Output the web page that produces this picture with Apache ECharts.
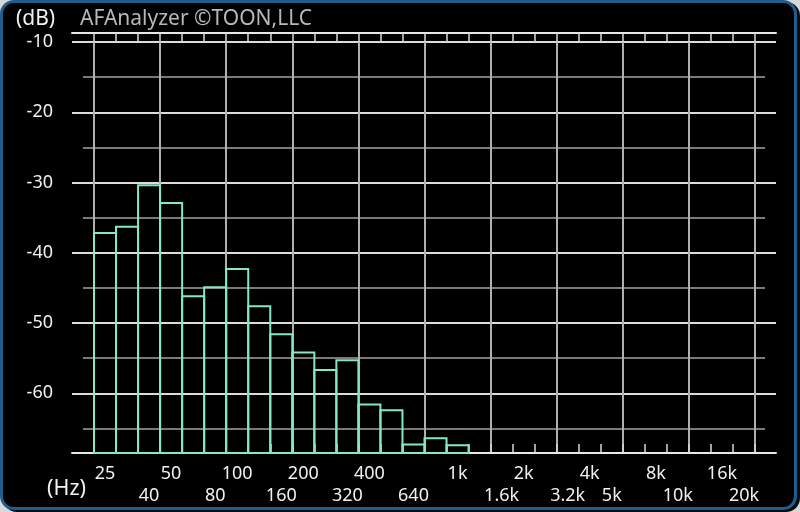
<!DOCTYPE html>
<html>
<head>
<meta charset="utf-8">
<script src="https://cdn.jsdelivr.net/npm/echarts@6.0.0/dist/echarts.min.js"></script>
<style>
  html, body { margin: 0; padding: 0; background: #d8d8d8; width: 800px; height: 512px; overflow: hidden; }
  #frame { position: absolute; left: 0; top: 0; width: 797px; height: 510px; box-sizing: border-box;
           border: 3px solid #1f5d8c; border-radius: 14px; background: #000; box-shadow: 3px 2px 0 #050b12; }
  #chart { position: absolute; left: 0; top: 0; width: 800px; height: 512px; }
</style>
</head>
<body>
<div id="frame"></div>
<div id="chart"></div>
<script>
// 1/3-octave bands (Hz)
const bands = ['25','31.5','40','50','63','80','100','125','160','200','250','315','400','500','630','800',
               '1k','1.25k','1.6k','2k','2.5k','3.15k','4k','5k','6.3k','8k','10k','12.5k','16k','20k'];
// band levels (dB); null = below the floor
const levels = [-37.2,-36.3,-30.4,-32.9,-46.2,-44.9,-42.3,-47.6,-51.6,-54.2,-56.7,-55.3,-61.6,-62.4,-67.3,-66.4,-67.4,
                null,null,null,null,null,null,null,null,null,null,null,null,null];
// x tick labels: [band, text]
const rowUpper = [['25','25'],['50','50'],['100','100'],['200','200'],['400','400'],['1k','1k'],['2k','2k'],['4k','4k'],['8k','8k'],['16k','16k']];
const rowLower = [['40','40'],['80','80'],['160','160'],['315','320'],['630','640'],['1.6k','1.6k'],['3.15k','3.2k'],['5k','5k'],['10k','10k'],['20k','20k']];
// y axis
const yMin = -68.5, yMax = -10;
const yStepMajor = 10, yStepMinor = 5;

const upperMap = Object.fromEntries(rowUpper);
const lowerMap = Object.fromEntries(rowLower);
const FONT = '"Noto Sans", "Open Sans", sans-serif';

const chart = echarts.init(document.getElementById('chart'), null, { renderer: 'canvas' });
chart.setOption({
  backgroundColor: 'transparent',
  animation: false,
  title: [
    { text: '(dB)', left: 11, top: 4, textStyle: { color: '#f0f0f0', fontSize: 21, fontWeight: 'normal', fontFamily: FONT } },
    { text: 'AFAnalyzer ©TOON,LLC', left: 75, top: 4, textStyle: { color: '#b8b8b8', fontSize: 21, fontWeight: 'normal', fontFamily: FONT } },
    { text: '(Hz)', left: 42, top: 473, textStyle: { color: '#f0f0f0', fontSize: 21.5, fontWeight: 'normal', fontFamily: FONT } }
  ],
  grid: [
    { left: 94, right: 45, top: 42, bottom: 59, containLabel: false },  // bands
    { left: 72, right: 24, top: 42, bottom: 59, containLabel: false },  // major lines + frame
    { left: 83, right: 35, top: 42, bottom: 59, containLabel: false }   // minor lines
  ],
  xAxis: [
    { gridIndex: 0, type: 'category', data: bands, position: 'bottom', boundaryGap: true,
      axisLine: { show: false },
      axisTick: { show: true, inside: true, length: 9, interval: 0, lineStyle: { color: '#d8d8d8', width: 1.5 } },
      splitLine: { show: true, interval: (i) => i % 3 === 0, lineStyle: { color: '#b0b0b0', width: 2 } },
      axisLabel: { interval: 0, margin: 10, color: '#f0f0f0', fontSize: 18, lineHeight: 22, fontFamily: FONT,
        formatter: (v) => upperMap[v] !== undefined ? upperMap[v] : (lowerMap[v] !== undefined ? '\n' + lowerMap[v] : '') } },
    { gridIndex: 0, type: 'category', data: bands, position: 'top', offset: 9, boundaryGap: true,
      axisLine: { show: false },
      axisTick: { show: true, inside: true, length: 9, interval: 0, lineStyle: { color: '#d8d8d8', width: 1.5 } },
      axisLabel: { show: false }, splitLine: { show: false } },
    { gridIndex: 1, type: 'value', min: 0, max: 1, position: 'bottom',
      axisLine: { show: true, lineStyle: { color: '#e8e8e8', width: 2 } },
      axisTick: { show: false }, axisLabel: { show: false }, splitLine: { show: false } },
    { gridIndex: 1, type: 'value', min: 0, max: 1, position: 'top', offset: 9,
      axisLine: { show: true, lineStyle: { color: '#e8e8e8', width: 2 } },
      axisTick: { show: false }, axisLabel: { show: false }, splitLine: { show: false } },
    { gridIndex: 2, type: 'value', min: 0, max: 1, show: false }
  ],
  yAxis: [
    { gridIndex: 0, type: 'value', min: yMin, max: yMax, show: false, splitLine: { show: false } },
    { gridIndex: 1, type: 'value', min: yMin, max: yMax, minInterval: yStepMajor, maxInterval: yStepMajor,
      axisLine: { show: false }, axisTick: { show: false },
      axisLabel: { margin: 19, color: '#f0f0f0', fontSize: 18, fontFamily: FONT, showMinLabel: false,
        formatter: (v) => (Math.round(v) === v ? String(v) : '') },
      splitLine: { show: true, showMinLine: false, lineStyle: { color: '#dcdcdc', width: 2 } } },
    { gridIndex: 2, type: 'value', min: yMin, max: yMax, minInterval: yStepMinor, maxInterval: yStepMinor, z: -1,
      axisLine: { show: false }, axisTick: { show: false }, axisLabel: { show: false },
      splitLine: { show: true, showMinLine: false, showMaxLine: false, lineStyle: { color: '#7a7a7a', width: 2 } } }
  ],
  series: [{
    type: 'custom',
    xAxisIndex: 0, yAxisIndex: 0,
    data: bands.map((b, i) => [i, levels[i]]).filter(d => d[1] !== null),
    renderItem: (params, api) => {
      const top = api.coord([api.value(0), api.value(1)]);
      const base = api.coord([api.value(0), yMin]);
      const w = api.size([1, 0])[0];
      return {
        type: 'rect',
        shape: { x: top[0] - w / 2, y: top[1], width: w, height: base[1] - top[1] },
        style: { fill: 'none', stroke: '#86e6c8', lineWidth: 2 }
      };
    },
    z: 5
  }]
});
</script>
</body>
</html>
